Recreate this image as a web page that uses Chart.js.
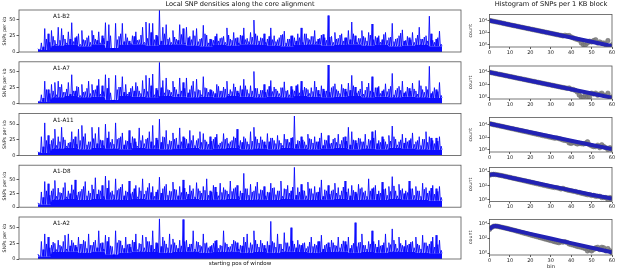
<!DOCTYPE html>
<html><head><meta charset="utf-8">
<script src="https://cdn.jsdelivr.net/npm/chart.js@4.4.0/dist/chart.umd.min.js"></script>
<style>
body{margin:0;width:617px;height:271px;background:#fff;position:relative;overflow:hidden;font-family:"DejaVu Sans",sans-serif;}
canvas{position:absolute;left:0;top:0;}
.t{position:absolute;white-space:nowrap;color:#111;font-family:"DejaVu Sans",sans-serif;line-height:1;}
</style></head><body>
<script>
// ---------- data ----------
const rowLabels = ["A1-B2","A1-A7","A1-A11","A1-D8","A1-A2"];

const peaksB2 = [5,14,36,28,33,18,38,36,20,31,45,22,28,33,18,25,33,20,31,25,45,42,3,44,24,44,28,17,25,31,19,38,46,44,44,26,64,38,42,22,33,20,42,36,38,24,33,36,20,41,26,20,18,28,21,24,37,20,30,22,26,37,21,30,49,25,22,28,20,37,25,19,26,32,20,25,22,28,37,28,21,24,33,20,26,22,56,24,30,21,28,22,33,46,25,21,33,22,30,43,24,25,19,30,22,44,20,25,34,18,22,30,21,38,20,25,55,18,20,32];
const peaksA7 = [4,14,35,22,30,33,35,30,18,33,45,20,26,30,19,35,30,22,38,28,45,40,4,44,26,42,30,18,27,33,20,36,44,40,46,24,64,36,40,21,35,22,40,33,40,22,35,38,21,42,24,22,19,30,20,26,35,22,31,20,28,38,22,28,50,24,21,30,22,36,26,20,25,34,21,27,20,30,35,26,22,25,35,21,28,20,60,25,31,20,30,23,32,44,26,20,35,21,32,42,25,27,20,31,23,47,21,27,35,19,24,32,20,36,22,27,58,19,22,33];
const peaksA11 = [6,30,52,32,24,42,30,45,25,20,38,30,42,48,35,22,45,35,45,24,50,38,26,52,28,36,24,40,30,22,44,32,26,38,48,28,58,30,40,24,36,28,44,30,26,40,32,24,38,35,22,30,26,34,20,35,28,22,30,42,24,30,22,38,45,26,30,22,35,28,24,32,20,34,26,28,63,24,30,22,34,26,30,22,36,25,32,20,28,34,24,30,45,38,24,28,22,34,26,38,40,24,30,22,32,47,26,22,34,28,24,36,22,30,26,38,30,24,28,30];
const peaksD8 = [8,28,47,43,30,49,35,26,45,30,41,50,28,33,47,30,41,54,32,40,57,49,30,52,34,42,30,48,28,40,36,52,30,44,38,28,55,34,42,30,46,32,38,50,28,40,34,45,30,38,52,30,40,28,44,36,30,48,34,40,30,62,34,42,30,46,32,38,28,44,36,30,48,34,40,30,73,36,42,30,46,34,38,28,50,32,40,30,44,36,30,48,34,40,28,42,36,30,52,34,40,30,46,34,38,56,30,42,34,30,48,34,38,30,44,36,30,40,34,38];
const peaksA2 = [8,28,40,35,22,25,30,20,38,40,30,22,35,24,28,40,22,30,45,26,38,35,20,45,30,22,35,24,30,40,25,38,35,28,45,26,64,35,24,40,32,22,30,63,30,24,45,28,22,40,26,20,25,30,22,45,24,20,30,26,22,35,40,26,45,24,30,22,28,60,26,40,24,42,26,50,24,30,22,26,20,35,24,28,38,22,26,30,22,35,24,28,35,22,58,26,40,22,28,45,24,30,22,40,26,48,24,35,22,30,24,28,35,22,38,26,24,35,38,30];

const minorB2 = [4,8,20,15,24,12,18,26,14,20,16,24,12,19,22,15,26,18,14,21,17,25,3,19,28,16,22,13,24,18,26,15,21,30,19,24,17,28,20,15,23,18,27,14,22,19,25,16,21,28,14,19,24,17,22,15,26,18,21,14,25,19,16,23,28,17,21,15,24,19,16,22,27,14,20,25,17,22,15,28,19,24,16,21,27,18,23,15,20,26,17,22,19,28,15,21,24,17,26,19,22,15,27,18,23,16,21,29,17,24,19,15,26,20,23,17,28,15,22,12];
const minorA7 = [4,9,22,16,20,14,26,18,23,15,20,27,13,18,24,16,21,28,15,19,24,17,4,22,26,18,15,24,20,27,16,23,19,28,14,21,25,17,22,18,26,15,20,24,17,28,19,22,14,25,18,21,16,27,20,23,15,19,26,17,22,28,16,20,24,15,21,18,27,19,23,16,25,20,14,22,28,17,21,24,16,19,26,15,23,20,18,27,22,16,24,19,21,28,17,23,15,26,20,18,25,16,22,19,27,14,24,21,17,26,20,23,15,28,18,22,16,25,19,13];
const minorA11 = [5,14,24,18,27,16,22,29,15,21,26,18,24,30,17,22,27,19,25,16,28,21,18,26,30,17,23,20,27,15,24,19,28,22,16,25,21,29,18,23,26,17,22,28,19,24,16,27,21,25,18,23,29,17,22,26,19,24,28,16,21,27,18,23,30,20,25,17,22,28,19,24,16,26,21,29,18,23,25,17,27,20,22,28,16,24,19,26,21,18,29,23,17,25,20,27,22,16,24,28,19,21,26,18,23,30,17,25,20,22,27,18,24,16,26,21,28,19,23,15];
const minorD8 = [6,18,30,22,34,20,27,36,19,25,32,22,29,38,21,26,33,24,30,20,35,27,23,31,37,21,28,25,34,19,30,24,36,27,20,32,26,38,22,29,33,21,27,35,24,30,19,34,26,31,22,28,37,21,27,32,24,29,36,20,26,34,22,28,38,25,31,21,27,35,23,30,20,33,26,37,22,28,31,21,34,25,27,36,20,30,24,32,26,22,37,28,21,31,25,34,27,20,30,36,24,26,33,22,29,39,21,31,25,27,34,22,30,20,33,26,35,24,29,18];
const minorA2 = [5,15,24,18,27,15,22,28,16,21,26,19,24,30,17,22,27,18,25,16,28,21,4,26,29,17,23,19,27,15,24,18,28,22,16,25,20,29,18,23,26,17,21,28,19,24,16,27,20,25,18,22,29,17,21,26,19,24,28,16,21,27,18,23,30,19,25,17,22,28,19,24,16,26,20,29,18,23,25,17,27,20,22,28,16,24,19,26,21,18,29,23,17,25,20,27,22,16,24,28,19,21,26,18,23,30,17,25,20,22,27,18,24,16,26,21,28,19,23,14];

const baseB2  = [3,10,11,9,12,6,11,12,10,11,12,10,9,11,10,12,11,10,9,11,12,10,11,12,10,11,9,10,11,9];
const baseA7  = [3,10,12,10,11,6,12,11,10,12,11,10,11,10,12,11,10,11,10,12,11,10,11,12,10,11,10,11,10,9];
const baseA11 = [4,11,12,10,12,11,10,12,11,10,11,12,10,11,12,10,11,10,12,11,10,11,12,10,11,10,12,11,10,9];
const baseD8  = [5,14,15,13,15,14,13,15,14,13,14,15,13,14,15,13,14,13,15,14,13,14,15,13,14,13,15,14,13,12];
const baseA2  = [4,11,12,10,12,7,10,12,11,10,11,12,10,11,12,10,11,10,12,11,10,11,12,10,11,10,12,11,10,9];

const yMaxLeft = [64.5, 65, 67, 77, 67];
const yTicksLeft = [0, 25, 50];

// histogram: counts per bin 0..60 (0 = empty bin)
const grayB2 = [10500,8800,7500,6400,5500,4700,4000,3400,2800,2400,2000,1700,1450,1250,1050,900,760,650,550,470,400,340,290,250,210,180,150,130,110,95,80,68,58,49,42,36,30,38,32,34,20,14,10,8,6,2,1,1,2,4,3,5,7,2,3,2,2,1,5,0,1];
const grayA7 = [7400,6400,5500,4700,4000,3500,3000,2600,2200,1900,1600,1400,1200,1000,880,750,650,560,480,410,350,300,260,220,190,165,140,120,104,90,78,66,57,49,42,36,31,27,23,26,17,15,11,6,2,1,1,2,1,1,4,3,4,2,3,4,2,0,4,1,1];
const grayA11 = [16000,13500,11000,9500,8000,6800,5800,4900,4100,3500,2900,2500,2100,1750,1500,1250,1050,900,760,640,540,450,380,320,270,230,190,160,140,115,98,82,70,75,60,48,35,30,26,12,10,14,11,8,10,9,8,10,18,6,4,3,3,5,2,6,3,2,1,2,1];
const grayD8 = [2600,3300,3500,3300,3000,2600,2300,2000,1750,1500,1300,1100,950,820,700,600,520,450,390,330,285,245,210,180,155,135,115,100,86,74,64,55,50,48,40,32,38,28,24,20,18,15,14,11,10,8,7,6,5,5,4,4,3,3,3,2,2,2,1,2,1];
const grayA2 = [1500,2700,3900,4300,3800,3300,2900,2500,2200,1900,1600,1350,1150,960,800,670,560,470,400,330,280,235,195,165,140,118,98,82,70,58,49,41,34,29,25,32,30,34,26,17,14,12,10,8,7,6,5,4,2,3,2,3,5,6,3,6,5,2,4,2,1];

const blueBins = [0,1,2,3,4,6,10,20,30,40,50,60];
const blueB2  = [10000,8600,7400,6400,5500,4100,2000,400,80,16,3.2,0.63];
const blueA7  = [7400,6400,5500,4700,4000,3000,1600,350,78,17,3.7,0.8];
const blueA11 = [14500,13500,11500,9800,8300,6000,3100,640,130,27,5.6,1.15];
const blueD8  = [2800,3400,3500,3200,2900,2300,1300,330,80,20,5,1.5];
const blueA2  = [1600,2800,4000,4300,4000,2900,1600,380,91,22,5.2,1.26];

const xTicksHist = [0,10,20,30,40,50,60];
const yTicksHist = [1,100,10000];
const yTickLabelsHist = ["10\u2070","10\u00b2","10\u2074"];

const peakSets = [peaksB2,peaksA7,peaksA11,peaksD8,peaksA2];
const minorSets = [minorB2,minorA7,minorA11,minorD8,minorA2];
const baseSets = [baseB2,baseA7,baseA11,baseD8,baseA2];
const graySets = [grayB2,grayA7,grayA11,grayD8,grayA2];
const blueSets = [blueB2,blueA7,blueA11,blueD8,blueA2];

// ---------- layout ----------
const W = 617, H = 271;
const leftTops = [10, 61.8, 113.5, 165.2, 217], leftH = 42, leftL = 19, leftR = 461;
const rightBox = [[14.5,47],[66,99],[117.5,152],[167.5,201.5],[219.5,255]];
const rightLog = [[-0.35,5.0],[-0.3,4.85],[-0.4,5.2],[-0.25,4.5],[-0.25,4.5]];
const rightL = 489.5, rightR = 612, xAxisH = 9;

Chart.defaults.font.family = "'DejaVu Sans', sans-serif";
Chart.defaults.color = '#222';

const boxPlugin = {id:'box', afterDraw(c){
  const a = c.chartArea, x = c.ctx;
  x.save(); x.strokeStyle = '#555'; x.lineWidth = 0.8;
  x.strokeRect(a.left, a.top, a.right - a.left, a.bottom - a.top);
  x.restore();
}};

function addCanvas(){
  const cv = document.createElement('canvas');
  cv.width = W; cv.height = H;
  cv.style.width = W + 'px'; cv.style.height = H + 'px';
  document.body.appendChild(cv);
  return cv;
}
function addText(txt, x, y, size, center){
  const d = document.createElement('div');
  d.className = 't'; d.textContent = txt;
  d.style.fontSize = size + 'px';
  d.style.left = x + 'px'; d.style.top = (y - size/2) + 'px';
  if (center) d.style.transform = 'translateX(-50%)';
  document.body.appendChild(d);
}

function makeLeft(k){
  const peaks = peakSets[k], minor = minorSets[k], base = baseSets[k];
  const spike = [], band = [];
  for (let i = 0; i < peaks.length; i++){
    const b = base[Math.floor(i * base.length / peaks.length)];
    spike.push({x:i, y:peaks[i]});
    spike.push({x:i+0.25, y:b});
    spike.push({x:i+0.5, y:minor[i]});
    spike.push({x:i+0.75, y:b});
    band.push({x:i, y:b}); band.push({x:i+0.75, y:b});
  }
  const R = peaks.length - 0.25;
  const top = leftTops[k], bottom = top + leftH;
  new Chart(addCanvas(), {
    type:'line',
    data:{datasets:[
      {data:spike, borderColor:'#0000ff', borderWidth:0.85, pointRadius:0, fill:false, tension:0},
      {data:band, borderColor:'rgba(0,0,255,0)', backgroundColor:'rgba(0,0,255,0.95)', borderWidth:0, pointRadius:0, fill:'origin'}
    ]},
    options:{
      responsive:false, animation:false, devicePixelRatio:1,
      layout:{padding:{left:0, top:top, right:W - leftR, bottom:H - bottom}},
      plugins:{legend:{display:false}, tooltip:{enabled:false}},
      scales:{
        x:{type:'linear', display:false, min:-0.047*R, max:R*1.047},
        y:{min:0, max:yMaxLeft[k],
           afterFit(s){ s.width = leftL; },
           afterBuildTicks(s){ s.ticks = yTicksLeft.map(v => ({value:v})); },
           ticks:{font:{size:5}, padding:1, autoSkip:false},
           grid:{drawOnChartArea:false, tickLength:2.5, color:'#333', lineWidth:0.8},
           border:{display:false},
           title:{display:true, text:'SNPs per kb', font:{size:4.8}, padding:{top:1.5, bottom:0}}}
      }
    },
    plugins:[boxPlugin]
  });
  addText(rowLabels[k], 53, top + 7, 5.7, false);
}

function makeRight(k){
  const [top, bottom] = rightBox[k];
  const [lo, hi] = rightLog[k];
  const g = graySets[k];
  const grayPts = [];
  for (let b = 0; b < g.length; b++) if (g[b] > 0) grayPts.push({x:b, y:g[b]});
  const bluePts = blueBins.map((b, i) => ({x:b, y:blueSets[k][i]}));
  new Chart(addCanvas(), {
    type:'scatter',
    data:{datasets:[
      {type:'line', data:bluePts, borderColor:'#2222b4', borderWidth:4, pointRadius:0, fill:false, tension:0},
      {data:grayPts, pointRadius:2.3, backgroundColor:'rgba(125,125,125,0.9)', borderColor:'#6a6a6a', borderWidth:0.5}
    ]},
    options:{
      responsive:false, animation:false, devicePixelRatio:1,
      layout:{padding:{left:466, top:top, right:W - rightR, bottom:H - bottom - xAxisH}},
      plugins:{legend:{display:false}, tooltip:{enabled:false}},
      scales:{
        x:{type:'linear', min:0, max:60,
           afterFit(s){ s.height = xAxisH; },
           afterBuildTicks(s){ s.ticks = xTicksHist.map(v => ({value:v})); },
           ticks:{font:{size:5}, padding:0.5, maxRotation:0, autoSkip:false},
           grid:{drawOnChartArea:false, tickLength:2, color:'#333', lineWidth:0.8},
           border:{display:false}},
        y:{type:'logarithmic', min:Math.pow(10,lo), max:Math.pow(10,hi),
           afterFit(s){ s.width = rightL - 466; },
           afterBuildTicks(s){ s.ticks = yTicksHist.map(v => ({value:v})); },
           ticks:{font:{size:5}, padding:0.5, autoSkip:false,
                  callback:(v) => { const i = yTicksHist.indexOf(v); return i >= 0 ? yTickLabelsHist[i] : ''; }},
           grid:{drawOnChartArea:false, tickLength:2, color:'#333', lineWidth:0.8},
           border:{display:false},
           title:{display:true, text:'count', font:{size:4.8}, padding:{top:2, bottom:0}}}
      }
    },
    plugins:[boxPlugin]
  });
}

for (let k = 0; k < 5; k++){ makeLeft(k); makeRight(k); }

addText('Local SNP densities along the core alignment', 240, 4.5, 6.6, true);
addText('Histogram of SNPs per 1 KB block', 551, 4.5, 6.7, true);
addText('starting pos of window', 240, 264, 5.5, true);
addText('bin', 551, 267, 5.1, true);
</script>
</body></html>
